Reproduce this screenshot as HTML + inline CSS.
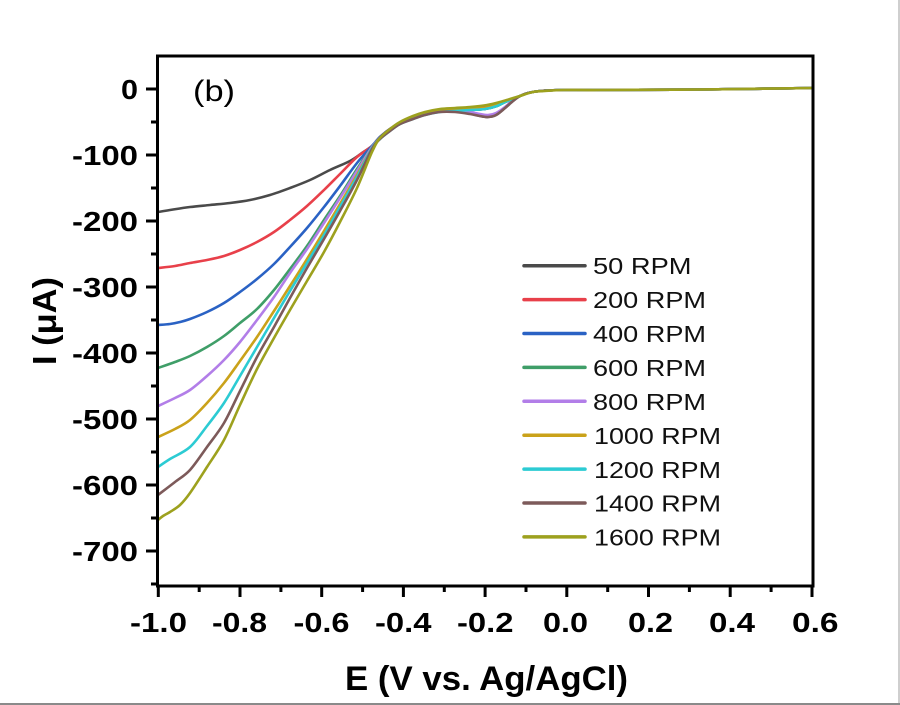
<!DOCTYPE html>
<html>
<head>
<meta charset="utf-8">
<style>
html,body{margin:0;padding:0;background:#fff;}
svg{display:block;}
text{font-family:"Liberation Sans",Arial,sans-serif;}
</style>
</head>
<body>
<svg id="chart" width="900" height="705" viewBox="0 0 900 705" xmlns="http://www.w3.org/2000/svg">
<rect x="0" y="0" width="900" height="705" fill="#fff"/>
<rect x="898" y="0" width="2" height="705" fill="#cfcfcf"/>
<rect x="0" y="703" width="900" height="2" fill="#8a8a8a"/>

<!-- curves -->
<g id="curves" fill="none" stroke-width="2.6" stroke-linejoin="round" stroke-linecap="round">
<polyline stroke="#4a4a4a" points="158,212 170,210 190,207 210,205 230,203 250,200 270,195 290,188 310,180 330,170 350,161 362,153 372,146 380,137 390,129 400,123 413,118 425,114 440,111 455,111 470,113 480,116 488,117 496,115 505,108 513,101 520,96 528,93 540,91 563,90 600,90 700,89.5 813,88"/>
<polyline stroke="#e8404a" points="158,268 175,266 190,263 207,260 224,256 240,250 257,242 274,232 290,220 307,206 324,190 340,174 357,157 372,146 380,137 390,129 400,123 413,118 425,114 440,111 455,110 470,109 485,107 497,105 505,102 513,99 520,96 528,93 540,91 563,90 600,90 700,89.5 813,88"/>
<polyline stroke="#2a62c4" points="158,325 170,324 180,322 190,319 207,312 224,303 240,292 257,279 274,264 290,247 307,228 324,207 340,186 357,163 372,146 380,137 390,129 400,123 413,118 425,114 440,111 455,110 470,110 485,109 497,106 505,102 513,99 520,96 528,93 540,91 563,90 600,90 700,89.5 813,88"/>
<polyline stroke="#3f9e68" points="158,368 175,362 190,356 207,347 224,336 240,323 257,309 274,290 290,269 307,246 324,220 340,196 357,169 372,147 380,138 390,130 400,124 413,118 425,114 440,111 455,110 470,110 485,109 497,106 505,102 513,99 520,96 528,93 540,91 563,90 600,90 700,89.5 813,88"/>
<polyline stroke="#b27ee8" points="158,406 175,398 190,390 207,376 224,360 240,342 257,320 274,297 290,273 307,249 324,223 340,198 357,171 372,147 380,138 390,130 400,124 413,118 425,114 440,111 455,111 470,112 480,114 488,115 496,113 505,107 513,100 520,96 528,93 540,91 563,90 600,90 700,89.5 813,88"/>
<polyline stroke="#caa21a" points="158,437 175,429 190,420 207,403 224,383 240,361 257,337 274,311 290,286 307,259 324,231 340,204 357,175 372,148 380,138 390,130 400,124 413,118 425,114 440,111 455,110 470,109 485,108 497,105 505,102 513,99 520,96 528,93 540,91 563,90 600,90 700,89.5 813,88"/>
<polyline stroke="#2ccbd3" points="158,467 170,459 190,447 207,426 224,403 240,376 257,347 274,318 290,291 307,263 324,235 340,207 357,177 372,148 380,139 390,131 400,124 413,119 425,115 440,112 455,111 470,110 485,109 497,106 505,102 513,99 520,96 528,93 540,91 563,90 600,90 700,89.5 813,88"/>
<polyline stroke="#7d5a5a" points="158,495 175,482 190,470 207,447 224,423 240,391 257,357 274,327 290,298 307,268 324,239 340,211 357,180 372,149 380,139 390,131 400,124 413,119 425,115 440,112 455,112 470,114 480,116 488,117 496,115 505,108 513,101 520,96 528,93 540,91 563,90 600,90 700,89.5 813,88"/>
<polyline stroke="#9da11e" points="158,520 163,516 170,512 180,505 190,493 207,467 224,440 240,405 257,369 274,338 290,310 307,281 324,252 340,222 357,188 372,152 380,138 390,129 400,122 413,116 425,112 440,109 455,108 470,107 487,105 500,102 510,99 520,96 533,92 545,91 563,90 600,90 700,89.5 813,88"/>
</g>

<!-- axes frame -->
<rect x="157.5" y="56" width="655.5" height="530" fill="none" stroke="#000" stroke-width="3"/>

<!-- y ticks -->
<g stroke="#000" stroke-width="3">
<line x1="146" y1="89" x2="157" y2="89"/>
<line x1="146" y1="155" x2="157" y2="155"/>
<line x1="146" y1="221" x2="157" y2="221"/>
<line x1="146" y1="287" x2="157" y2="287"/>
<line x1="146" y1="353" x2="157" y2="353"/>
<line x1="146" y1="419" x2="157" y2="419"/>
<line x1="146" y1="485" x2="157" y2="485"/>
<line x1="146" y1="551" x2="157" y2="551"/>
<line x1="151" y1="122" x2="157" y2="122"/>
<line x1="151" y1="188" x2="157" y2="188"/>
<line x1="151" y1="254" x2="157" y2="254"/>
<line x1="151" y1="320" x2="157" y2="320"/>
<line x1="151" y1="386" x2="157" y2="386"/>
<line x1="151" y1="452" x2="157" y2="452"/>
<line x1="151" y1="518" x2="157" y2="518"/>
<line x1="151" y1="584" x2="157" y2="584"/>
</g>

<!-- x ticks -->
<g stroke="#000" stroke-width="3">
<line x1="158.3" y1="586" x2="158.3" y2="597"/>
<line x1="240" y1="586" x2="240" y2="597"/>
<line x1="321.7" y1="586" x2="321.7" y2="597"/>
<line x1="403.4" y1="586" x2="403.4" y2="597"/>
<line x1="485.1" y1="586" x2="485.1" y2="597"/>
<line x1="566.8" y1="586" x2="566.8" y2="597"/>
<line x1="648.5" y1="586" x2="648.5" y2="597"/>
<line x1="730.2" y1="586" x2="730.2" y2="597"/>
<line x1="812" y1="586" x2="812" y2="597"/>
<line x1="199.2" y1="586" x2="199.2" y2="592"/>
<line x1="280.9" y1="586" x2="280.9" y2="592"/>
<line x1="362.6" y1="586" x2="362.6" y2="592"/>
<line x1="444.3" y1="586" x2="444.3" y2="592"/>
<line x1="526" y1="586" x2="526" y2="592"/>
<line x1="607.7" y1="586" x2="607.7" y2="592"/>
<line x1="689.4" y1="586" x2="689.4" y2="592"/>
<line x1="771.1" y1="586" x2="771.1" y2="592"/>
</g>

<!-- y tick labels -->
<g font-size="28" font-weight="bold" fill="#000" text-anchor="end">
<text x="138" y="99" textLength="17" lengthAdjust="spacingAndGlyphs">0</text>
<text x="138" y="165" textLength="66" lengthAdjust="spacingAndGlyphs">-100</text>
<text x="138" y="231" textLength="66" lengthAdjust="spacingAndGlyphs">-200</text>
<text x="138" y="297" textLength="66" lengthAdjust="spacingAndGlyphs">-300</text>
<text x="138" y="363" textLength="66" lengthAdjust="spacingAndGlyphs">-400</text>
<text x="138" y="429" textLength="66" lengthAdjust="spacingAndGlyphs">-500</text>
<text x="138" y="495" textLength="66" lengthAdjust="spacingAndGlyphs">-600</text>
<text x="138" y="561" textLength="66" lengthAdjust="spacingAndGlyphs">-700</text>
</g>

<!-- x tick labels -->
<g font-size="28" font-weight="bold" fill="#000">
<text x="130" y="632" textLength="57" lengthAdjust="spacingAndGlyphs">-1.0</text>
<text x="212" y="632" textLength="55" lengthAdjust="spacingAndGlyphs">-0.8</text>
<text x="293.5" y="632" textLength="56" lengthAdjust="spacingAndGlyphs">-0.6</text>
<text x="375" y="632" textLength="56.5" lengthAdjust="spacingAndGlyphs">-0.4</text>
<text x="457" y="632" textLength="56.5" lengthAdjust="spacingAndGlyphs">-0.2</text>
<text x="543" y="632" textLength="45" lengthAdjust="spacingAndGlyphs">0.0</text>
<text x="628" y="632" textLength="45" lengthAdjust="spacingAndGlyphs">0.2</text>
<text x="709" y="632" textLength="46" lengthAdjust="spacingAndGlyphs">0.4</text>
<text x="792" y="632" textLength="46.5" lengthAdjust="spacingAndGlyphs">0.6</text>
</g>

<!-- axis titles -->
<text x="345" y="690" font-size="34" font-weight="bold" fill="#000" textLength="283" lengthAdjust="spacingAndGlyphs">E (V vs. Ag/AgCl)</text>
<text transform="translate(56,365) rotate(-90)" x="0" y="0" font-size="33" font-weight="bold" fill="#000" textLength="88" lengthAdjust="spacingAndGlyphs">I (μA)</text>

<!-- panel label -->
<text x="193" y="101" font-size="30" fill="#000" textLength="42" lengthAdjust="spacingAndGlyphs">(b)</text>

<!-- legend -->
<g stroke-width="3.5" stroke-linecap="round">
<line x1="524" y1="265.7" x2="585" y2="265.7" stroke="#4a4a4a"/>
<line x1="524" y1="299.6" x2="585" y2="299.6" stroke="#e8404a"/>
<line x1="524" y1="333.5" x2="585" y2="333.5" stroke="#2a62c4"/>
<line x1="524" y1="367.4" x2="585" y2="367.4" stroke="#3f9e68"/>
<line x1="524" y1="401.3" x2="585" y2="401.3" stroke="#b27ee8"/>
<line x1="524" y1="435.2" x2="585" y2="435.2" stroke="#caa21a"/>
<line x1="524" y1="469.1" x2="585" y2="469.1" stroke="#2ccbd3"/>
<line x1="524" y1="503" x2="585" y2="503" stroke="#7d5a5a"/>
<line x1="524" y1="536.9" x2="585" y2="536.9" stroke="#9da11e"/>
</g>
<g font-size="23" fill="#111">
<text x="593" y="274" textLength="98.5" lengthAdjust="spacingAndGlyphs">50 RPM</text>
<text x="593" y="308" textLength="113" lengthAdjust="spacingAndGlyphs">200 RPM</text>
<text x="593" y="342" textLength="113" lengthAdjust="spacingAndGlyphs">400 RPM</text>
<text x="593" y="376" textLength="113" lengthAdjust="spacingAndGlyphs">600 RPM</text>
<text x="593" y="410" textLength="113" lengthAdjust="spacingAndGlyphs">800 RPM</text>
<text x="594" y="444" textLength="127" lengthAdjust="spacingAndGlyphs">1000 RPM</text>
<text x="594" y="478" textLength="127" lengthAdjust="spacingAndGlyphs">1200 RPM</text>
<text x="594" y="511.5" textLength="127" lengthAdjust="spacingAndGlyphs">1400 RPM</text>
<text x="594" y="545.5" textLength="127" lengthAdjust="spacingAndGlyphs">1600 RPM</text>
</g>
</svg>
<script>
(function(){
  try{
    var NS="http://www.w3.org/2000/svg";
    var g=document.getElementById("curves");
    var pls=g.querySelectorAll("polyline");
    for(var k=0;k<pls.length;k++){
      var pl=pls[k];
      var pts=pl.getAttribute("points").trim().split(/\s+/).map(function(s){var a=s.split(",");return [parseFloat(a[0]),parseFloat(a[1])];});
      var d="M"+pts[0][0]+","+pts[0][1];
      for(var i=0;i<pts.length-1;i++){
        var p0=pts[i>0?i-1:i],p1=pts[i],p2=pts[i+1],p3=pts[i+2<pts.length?i+2:i+1];
        var c1x=p1[0]+(p2[0]-p0[0])/6,c1y=p1[1]+(p2[1]-p0[1])/6;
        var c2x=p2[0]-(p3[0]-p1[0])/6,c2y=p2[1]-(p3[1]-p1[1])/6;
        d+=" C"+c1x.toFixed(2)+","+c1y.toFixed(2)+" "+c2x.toFixed(2)+","+c2y.toFixed(2)+" "+p2[0]+","+p2[1];
      }
      var path=document.createElementNS(NS,"path");
      path.setAttribute("d",d);
      path.setAttribute("stroke",pl.getAttribute("stroke"));
      g.replaceChild(path,pl);
    }
  }catch(e){}
})();
</script>
</body>
</html>
